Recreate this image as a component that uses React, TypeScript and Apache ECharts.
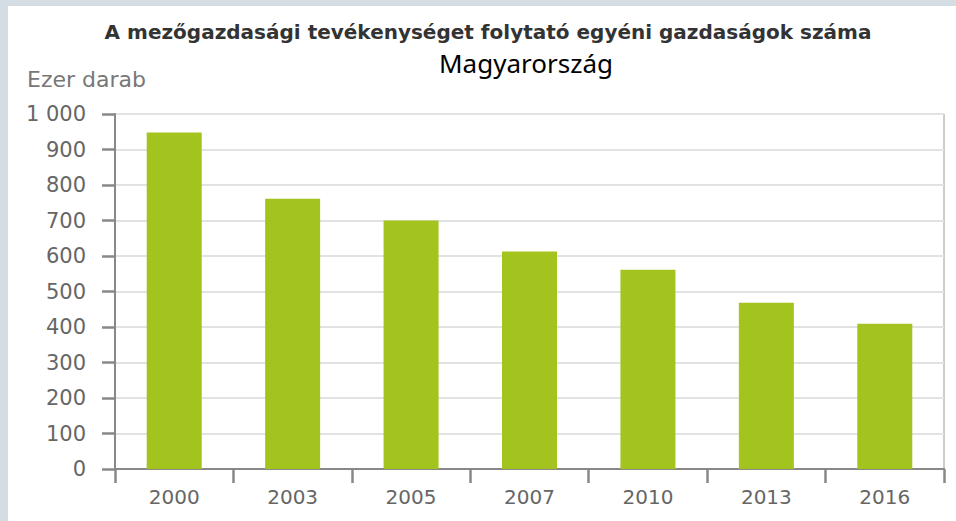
import React, { useEffect, useRef } from "react";
import * as echarts from "echarts";

const categories = ["2000", "2003", "2005", "2007", "2010", "2013", "2016"];
const values = [948, 761, 700, 613, 561, 468, 409];
const titleText = "A mezőgazdasági tevékenységet folytató egyéni gazdaságok száma";
const subtitleText = "Magyarország";
const unitText = "Ezer darab";

export default function App() {
  const ref = useRef<HTMLDivElement>(null);
  useEffect(() => {
    if (!ref.current) return;
    const chart = echarts.init(ref.current, null, { renderer: "svg" });
    chart.setOption({
      animation: false,
      backgroundColor: "#ffffff",
      graphic: [
        { type: "rect", left: 0, top: 0, z: -10, shape: { width: 956, height: 6 }, style: { fill: "#d4dce4" } },
        { type: "rect", left: 0, top: 0, z: -10, shape: { width: 8, height: 521 }, style: { fill: "#d4dce4" } },
        {
          type: "text",
          x: 488,
          y: 32,
          style: {
            text: titleText,
            font: "bold 20px 'DejaVu Sans'",
            fill: "#333333",
            align: "center",
            verticalAlign: "middle",
          },
        },
        {
          type: "text",
          x: 526,
          y: 63,
          style: {
            text: subtitleText,
            font: "26px 'Noto Sans'",
            fill: "#000000",
            align: "center",
            verticalAlign: "middle",
          },
        },
        {
          type: "text",
          x: 27,
          y: 79,
          style: {
            text: unitText,
            font: "22px 'DejaVu Sans'",
            fill: "#777777",
            align: "left",
            verticalAlign: "middle",
          },
        },
      ],
      grid: {
        left: 115,
        right: 12,
        top: 114,
        bottom: 52,
        show: true,
        borderColor: "#9a9a9a",
        borderWidth: 1,
        backgroundColor: "transparent",
      },
      xAxis: {
        type: "category",
        data: categories,
        axisLine: { lineStyle: { color: "#888888", width: 2 } },
        axisTick: { show: true, alignWithLabel: false, length: 14, lineStyle: { color: "#888888", width: 2.5 } },
        axisLabel: { color: "#666666", fontFamily: "DejaVu Sans", fontSize: 20, margin: 18 },
        splitLine: { show: false },
      },
      yAxis: {
        type: "value",
        min: 0,
        max: 1000,
        interval: 100,
        axisLine: { show: true, lineStyle: { color: "#888888", width: 2 } },
        axisTick: { show: true, length: 13, lineStyle: { color: "#888888", width: 2.5 } },
        axisLabel: {
          color: "#666666",
          fontFamily: "DejaVu Sans",
          fontSize: 21,
          margin: 29,
          formatter: (v: number) => String(v).replace(/\B(?=(\d{3})+(?!\d))/g, " "),
        },
        splitLine: { lineStyle: { color: "#e2e2e2", width: 2 } },
      },
      series: [
        {
          type: "bar",
          data: values,
          barWidth: 55,
          itemStyle: { color: "#a3c41e" },
        },
      ],
    });
    return () => chart.dispose();
  }, []);
  return (
    <div
      ref={ref}
      style={{ position: "fixed", left: 0, top: 0, width: 956, height: 521 }}
    />
  );
}
